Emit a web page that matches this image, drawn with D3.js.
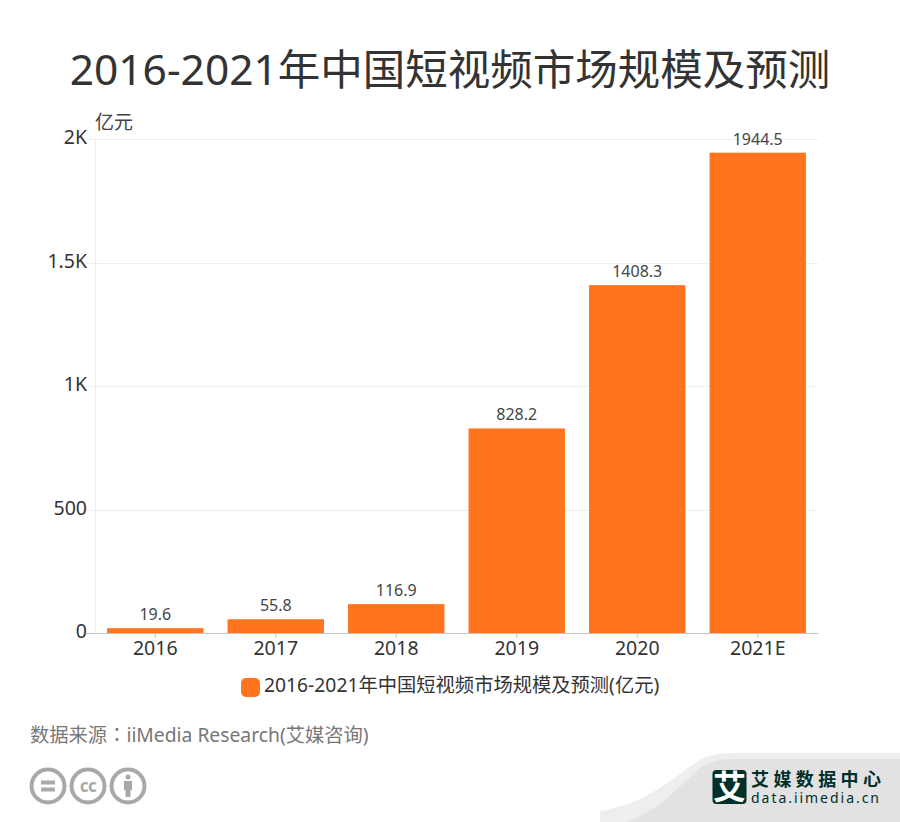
<!DOCTYPE html>
<html><head><meta charset="utf-8">
<script src="https://cdn.jsdelivr.net/npm/d3@7/dist/d3.min.js"></script>
<style>html,body{margin:0;padding:0;background:#fff}svg{display:block}text{font-family:"Noto Sans","Noto Sans CJK SC",sans-serif}</style>
</head><body><svg id="c" width="900" height="822"></svg>
<script>
const titleText="2016-2021年中国短视频市场规模及预测";
const unitText="亿元";
const categories=["2016","2017","2018","2019","2020","2021E"];
const marketSize=[19.6,55.8,116.9,828.2,1408.3,1944.5];
const valueLabels=["19.6","55.8","116.9","828.2","1408.3","1944.5"];
const yTicks=[0,500,1000,1500,2000];
const yTickLabels=["0","500","1K","1.5K","2K"];
const legendText="2016-2021年中国短视频市场规模及预测(亿元)";
const sourceParts=["数据来源","：","iiMedia Research(艾媒咨询)"];
const ORANGE="#ff741c";

const svg=d3.select("#c");
const x=d3.scaleBand().domain(categories).range([95,818]).paddingInner(0.2).paddingOuter(0.1);
const y=d3.scaleLinear().domain([0,2000]).range([633,139]);

// footer swoosh
svg.append("path").attr("d","M600 811 C640 805 665 785 695 763 C705 756 715 753 735 753 L900 753 L900 822 L600 822 Z").attr("fill","#eeeeee");
svg.append("path").attr("d","M627 822 C660 810 680 785 700 768 C710 761 720 759 735 759 L900 759 L900 822 Z").attr("fill","#e2e2e2");

svg.append("text").attr("x",450).attr("y",85).attr("text-anchor","middle").attr("font-size",42.5).attr("fill","#333").text(titleText);

// grid
svg.append("g").selectAll("line").data(yTicks.slice(1)).join("line")
 .attr("x1",86).attr("x2",818).attr("y1",d=>Math.round(y(d))+.5).attr("y2",d=>Math.round(y(d))+.5)
 .attr("stroke","#eeeeee");
svg.append("line").attr("x1",95.5).attr("x2",95.5).attr("y1",139).attr("y2",633).attr("stroke","#eeeeee");

// y labels
svg.append("g").selectAll("text").data(yTicks).join("text")
 .attr("x",87).attr("y",d=>y(d)+5).attr("text-anchor","end").attr("font-size",19.5).attr("fill","#333")
 .text((d,i)=>yTickLabels[i]);
svg.append("text").attr("x",95).attr("y",129).attr("font-size",19).attr("fill","#444").text(unitText);

// bars
svg.append("g").selectAll("rect").data(marketSize).join("rect")
 .attr("x",(d,i)=>x(categories[i])).attr("width",x.bandwidth())
 .attr("y",d=>y(d)).attr("height",d=>y(0)-y(d)).attr("fill",ORANGE);
svg.append("g").selectAll("text").data(marketSize).join("text")
 .attr("x",(d,i)=>x(categories[i])+x.bandwidth()/2).attr("y",d=>y(d)-8)
 .attr("text-anchor","middle").attr("font-size",16).attr("fill","#444")
 .text((d,i)=>valueLabels[i]);

// x axis
svg.append("line").attr("x1",86).attr("x2",818).attr("y1",633.5).attr("y2",633.5).attr("stroke","#c4c4c4");
svg.append("g").selectAll("line").data(categories).join("line")
 .attr("x1",d=>x(d)+x.bandwidth()/2).attr("x2",d=>x(d)+x.bandwidth()/2).attr("y1",633).attr("y2",638).attr("stroke","#c4c4c4");
svg.append("g").selectAll("text").data(categories).join("text")
 .attr("x",d=>x(d)+x.bandwidth()/2).attr("y",655).attr("text-anchor","middle").attr("font-size",19.5).attr("fill","#333").text(d=>d);

// legend
svg.append("rect").attr("x",241).attr("y",678).attr("width",19).attr("height",19).attr("rx",5).attr("fill",ORANGE);
svg.append("text").attr("x",264).attr("y",692).attr("font-size",19.3).attr("fill","#333").text(legendText);

// source
const src=svg.append("text").attr("x",30).attr("y",742).attr("font-size",19.3).attr("fill","#777");
src.append("tspan").text(sourceParts[0]);
src.append("tspan").style("font-family","'Noto Sans CJK TC'").text(sourceParts[1]);
src.append("tspan").text(sourceParts[2]);

// cc icons
const ic=svg.append("g").attr("fill","none").attr("stroke","#a9a9a9").attr("stroke-width",4);
[48,88,128].forEach(cx=>ic.append("circle").attr("cx",cx).attr("cy",786).attr("r",16.5));
ic.append("path").attr("d","M41 782.5H55M41 789.5H55");
svg.append("text").attr("x",88).attr("y",791.5).attr("text-anchor","middle").attr("font-size",17).attr("font-weight",700).attr("fill","#a9a9a9").attr("letter-spacing",-0.5).text("cc");
svg.append("circle").attr("cx",128).attr("cy",777).attr("r",2.5).attr("fill","#a9a9a9");
svg.append("path").attr("d","M124 781H132V790H130.5V797H125.5V790H124Z").attr("fill","#a9a9a9");

// logo
svg.append("rect").attr("x",712.5).attr("y",770).attr("width",34).attr("height",34).attr("rx",4).attr("fill","#00302a");
svg.append("text").attr("x",729.5).attr("y",799).attr("text-anchor","middle").attr("font-size",33).attr("font-weight",700).attr("fill","#fff").text("艾");
svg.append("text").attr("x",751).attr("y",786).attr("font-size",18).attr("font-weight",700).attr("fill","#00302a").attr("textLength",130).attr("lengthAdjust","spacing").text("艾媒数据中心");
svg.append("text").attr("x",751).attr("y",803).attr("font-size",14).attr("fill","#00302a").attr("textLength",128).attr("lengthAdjust","spacing").text("data.iimedia.cn");
</script></body></html>
